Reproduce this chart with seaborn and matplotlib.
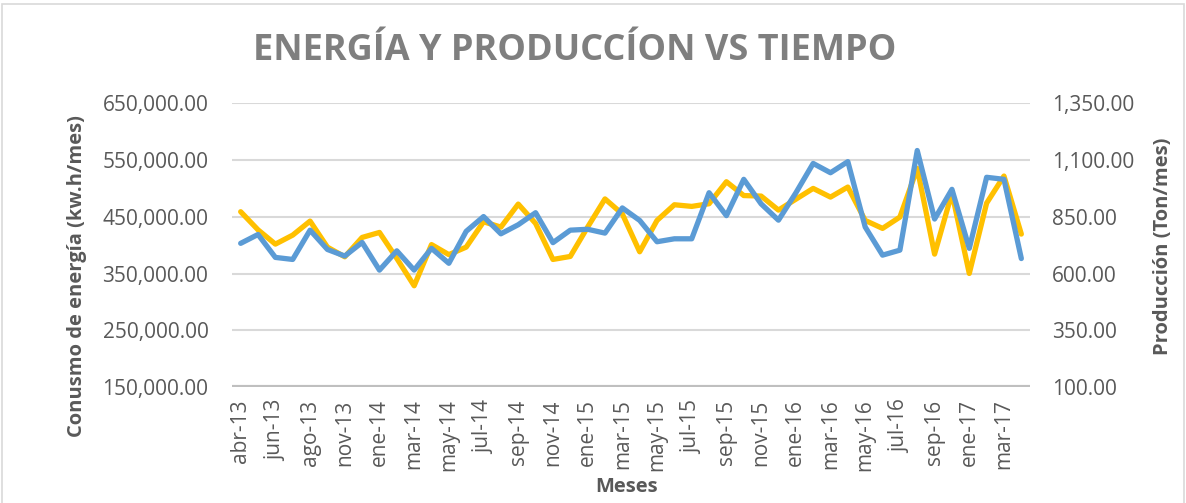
import numpy as np
import pandas as pd
import matplotlib
matplotlib.use("Agg")
import matplotlib.pyplot as plt
import matplotlib.ticker as mticker
from matplotlib.patches import Rectangle
import seaborn as sns

# Months (Excel category axis, one point per row)
meses = ['abr-13', 'may-13', 'jun-13', 'jul-13', 'ago-13', 'oct-13', 'nov-13', 'dic-13',
         'ene-14', 'feb-14', 'mar-14', 'abr-14', 'may-14', 'jun-14', 'jul-14', 'ago-14',
         'sep-14', 'oct-14', 'nov-14', 'dic-14', 'ene-15', 'feb-15', 'mar-15', 'abr-15',
         'may-15', 'jun-15', 'jul-15', 'ago-15', 'sep-15', 'oct-15', 'nov-15', 'dic-15',
         'ene-16', 'feb-16', 'mar-16', 'abr-16', 'may-16', 'jun-16', 'jul-16', 'ago-16',
         'sep-16', 'nov-16', 'ene-17', 'feb-17', 'mar-17', 'abr-17']

# Energy consumption (kw.h/mes) - left axis
energia = [458900, 427000, 401800, 417700, 442400, 396500, 379500, 413600,
           422400, 376600, 328400, 401000, 383300, 396500, 441200, 431800,
           472400, 438300, 374800, 380100, 431800, 481500, 455000, 388300,
           443600, 471200, 468300, 473000, 511800, 487400, 486500, 461800,
           480900, 500000, 484700, 502400, 443600, 429500, 449500, 535300,
           384200, 491800, 350100, 474100, 521800, 419500]

# Production (Ton/mes) - right axis
produccion = [733, 772, 671, 662, 791, 706, 677, 737,
              615, 700, 615, 711, 645, 786, 851, 775,
              815, 868, 736, 791, 795, 778, 889, 834,
              740, 753, 753, 956, 855, 1015, 907, 835,
              955, 1085, 1044, 1093, 805, 681, 703, 1142,
              840, 971, 711, 1024, 1015, 666]

df = pd.DataFrame({'idx': np.arange(len(meses)), 'mes': meses,
                   'energia': energia, 'produccion': produccion})

sns.set_theme(style="white")
plt.rcParams['font.family'] = ['Open Sans', 'DejaVu Sans']

gray_txt = '#595959'
fig = plt.figure(figsize=(11.86, 5.03), dpi=100)
ax1 = fig.add_axes([232 / 1186, 1 - 387 / 503, 798 / 1186, (387 - 103.3) / 503])
ax2 = ax1.twinx()

sns.lineplot(data=df, x='idx', y='energia', ax=ax1, color='#FFC000', linewidth=3.8)
sns.lineplot(data=df, x='idx', y='produccion', ax=ax2, color='#5B9BD5', linewidth=3.8)

ax1.set_xlim(-0.5, len(meses) - 0.5)
ax1.set_ylim(150000, 650000)
ax2.set_ylim(100, 1350)
ax1.set_yticks(np.arange(150000, 650001, 100000))
ax2.set_yticks(np.arange(100, 1351, 250))
ax1.yaxis.set_major_formatter(mticker.FuncFormatter(lambda v, p: f'{v:,.2f}'))
ax2.yaxis.set_major_formatter(mticker.FuncFormatter(lambda v, p: f'{v:,.2f}'))

ax1.set_xticks(df['idx'][::2])
ax1.set_xticklabels(df['mes'][::2], rotation=90)

for a in (ax1, ax2):
    for s in a.spines.values():
        s.set_visible(False)
    a.tick_params(length=0, labelsize=15, colors=gray_txt)
    a.grid(False)
ax1.tick_params(axis='y', pad=17)
ax2.tick_params(axis='y', pad=16)
ax1.tick_params(axis='x', labelsize=15, pad=9)

# horizontal gridlines
for v in np.arange(250000, 650001, 100000):
    ax1.axhline(v, color='#d9d9d9', linewidth=1.5, zorder=0)
ax1.axhline(150000, color='#bfbfbf', linewidth=3, zorder=0)

ax1.set_xlabel('Meses', fontsize=14.5, fontweight='bold', color=gray_txt, va='center')
ax1.xaxis.set_label_coords(0.495, -0.352)
ax1.set_ylabel('Conusmo de energía (kw.h/mes)', fontsize=14.5, fontweight='bold',
               color=gray_txt, va='center', ha='center')
ax1.yaxis.set_label_coords(-0.194, 0.391)
ax2.set_ylabel('Producción (Ton/mes)', fontsize=14.5, fontweight='bold',
               color=gray_txt, va='center', ha='center')
ax2.yaxis.set_label_coords(1.1667, 0.497)

fig.text(575 / 1186, 1 - 51 / 503, 'ENERGÍA Y PRODUCCÍON VS TIEMPO', ha='center', va='center',
         fontsize=26, fontweight='bold', color='#7f7f7f')

fig.patches.append(Rectangle((0.002, -0.01), 0.996, 1.002, transform=fig.transFigure,
                             fill=False, edgecolor='#d9d9d9', linewidth=1.2))

fig.savefig('out.png', dpi=100)
